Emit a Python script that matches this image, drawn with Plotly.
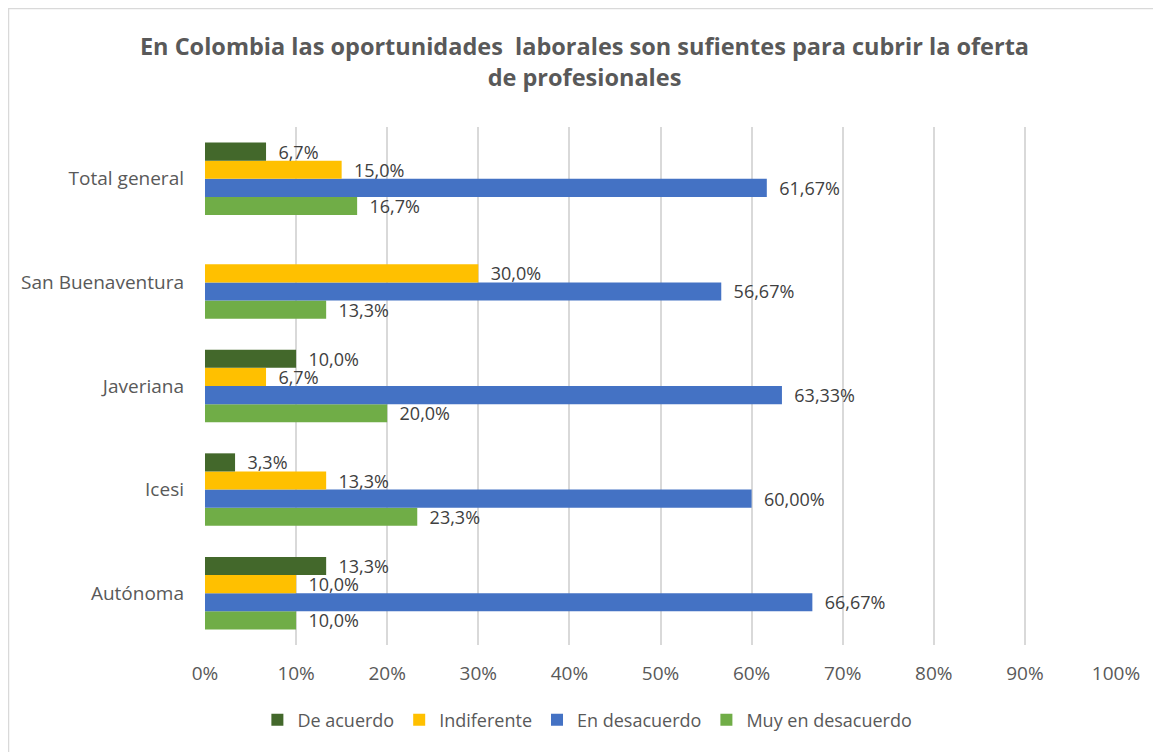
import plotly.graph_objects as go

categories = ["Autónoma", "Icesi", "Javeriana", "San Buenaventura", "Total general"]
series_names = ["De acuerdo", "Indiferente", "En desacuerdo", "Muy en desacuerdo"]
de_acuerdo = [13.3, 3.3, 10.0, None, 6.7]
indiferente = [10.0, 13.3, 6.7, 30.0, 15.0]
en_desacuerdo = [66.67, 60.00, 63.33, 56.67, 61.67]
muy_en_desacuerdo = [10.0, 23.3, 20.0, 13.3, 16.7]
decimals = [1, 1, 2, 1]
colors = ["#43682B", "#FFC000", "#4472C4", "#70AD47"]
tick_vals = [0, 10, 20, 30, 40, 50, 60, 70, 80, 90, 100]
tick_text = [f"{v}%" for v in tick_vals]

all_values = [de_acuerdo, indiferente, en_desacuerdo, muy_en_desacuerdo]

FONT = "Open Sans"


def fmt(v, d):
    if v is None:
        return ""
    return "\u00a0\u00a0" + (f"{v:.{d}f}%").replace(".", ",")


fig = go.Figure()
# add in reverse so first series is at the top of each group
for name, vals, d, c in reversed(list(zip(series_names, all_values, decimals, colors))):
    fig.add_trace(go.Bar(
        y=categories, x=vals, name=name, orientation="h",
        marker=dict(color=c, line=dict(width=0)),
        text=[fmt(v, d) for v in vals], textposition="outside",
        constraintext="none",
        textfont=dict(family=FONT, size=18, color="#404040"),
        cliponaxis=False,
    ))

W, H = 1153, 744
L, R, T, B = 197, 45, 119, 107
PW, PH = W - L - R, H - T - B

fig.update_layout(
    width=W, height=H,
    paper_bgcolor="white", plot_bgcolor="white",
    barmode="group", bargap=0.3, bargroupgap=0,
    margin=dict(l=L, r=R, t=T, b=B),
    title=dict(
        text="<b>En Colombia las oportunidades  laborales son sufientes para cubrir la oferta<br>de profesionales</b>",
        x=0.5, xref="container", xanchor="center",
        y=1 - 47 / H, yref="container", yanchor="middle",
        font=dict(family=FONT, size=23.5, color="#595959"),
    ),
    xaxis=dict(
        range=[0, 100], tickvals=tick_vals, ticktext=tick_text,
        showgrid=True, gridcolor="#D9D9D9", gridwidth=2,
        zeroline=False, showline=False, ticks="",
        tickfont=dict(family=FONT, size=19, color="#595959"),
        ticklabelstandoff=15,
    ),
    yaxis=dict(
        categoryorder="array", categoryarray=categories,
        showgrid=False, zeroline=False, showline=False, ticks="",
        tickfont=dict(family=FONT, size=19, color="#595959"),
        ticklabelstandoff=20,
    ),
    legend=dict(
        orientation="h", traceorder="reversed",
        x=0.5025, xref="container", xanchor="center",
        y=1 - 712 / H, yref="container", yanchor="middle",
        font=dict(family=FONT, size=18, color="#595959"),
        itemwidth=30,
    ),
    showlegend=True,
)

fig.add_shape(type="rect", xref="paper", yref="paper",
              x0=(0.5 - L) / PW, x1=(1150 - L) / PW,
              y0=(T + PH - (H + 5)) / PH, y1=(T + PH - 0.5) / PH,
              line=dict(color="#D9D9D9", width=1.5), fillcolor="rgba(0,0,0,0)")

fig.write_html("out.html")
